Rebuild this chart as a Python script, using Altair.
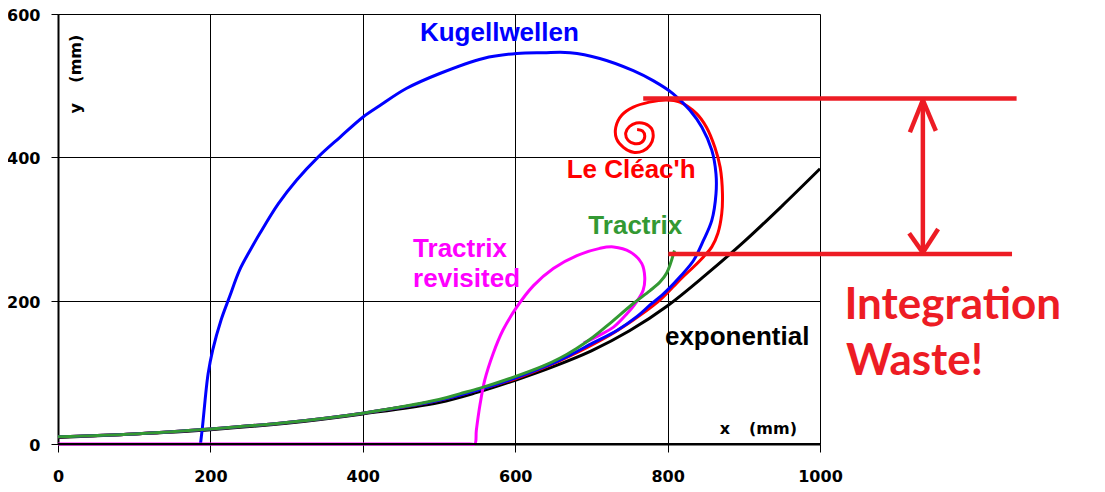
import altair as alt
import pandas as pd

# ---------------- data (mm) ----------------
exp_x = [0, 100, 200, 300, 400, 500, 550, 600, 650, 700, 750, 800, 850, 900, 950, 1000]
exp_y = [9, 14, 20, 29, 42, 58, 72, 89, 108, 130, 158, 193, 236, 282, 332, 384]

tr_x = [0, 100, 200, 300, 400, 500, 527, 554, 597, 637, 659, 680, 702, 724, 755, 777, 790, 799, 809]
tr_y = [10, 14, 21, 30, 43, 62, 70, 78, 93, 109, 120, 133, 149, 168, 196, 214, 226, 239, 270]

kug_x = [0, 100, 200, 300, 400, 500, 550, 600, 646, 672, 702, 733, 760, 777, 792, 799,
         816, 834, 847, 858, 863.5, 863.5, 858, 845, 829, 807, 781, 755, 711, 672, 637, 602,
         558, 501, 457, 422, 400, 370, 341, 313, 289, 265, 252, 238, 225, 214, 203, 197,
         193, 190, 187]
kug_y = [10, 14, 21, 30, 43, 61, 75, 92, 111, 124, 141, 158, 178, 194, 207, 214,
         233, 256, 284, 312, 349, 377, 410, 442, 466, 489, 507, 521, 538, 546, 546, 545,
         538, 517, 496, 472, 456, 428, 400, 368, 335, 294, 270, 242, 205, 173, 131, 98,
         61, 28, 0]

cl_x = [0, 100, 200, 300, 400, 500, 550, 600, 650, 676, 702, 729, 755, 781, 794, 807,
        820, 834, 847, 858, 866, 871, 872, 869, 862, 851, 838, 816, 799, 776, 755, 740,
        732, 733, 742, 755, 768, 777, 781, 779, 770, 759, 750, 745, 748, 757, 766, 770,
        767, 760]
cl_y = [10, 14, 21, 30, 43, 61, 75, 91, 112, 125, 139, 155, 173, 193, 205, 219,
        233, 247, 261, 275, 294, 321, 349, 386, 414, 442, 461, 477, 480, 477, 470, 459,
        442, 426, 414, 407, 409, 417, 428, 440, 447, 448, 443, 434, 424, 419, 421, 429,
        437, 439]

mag_x = [0, 300, 540, 547, 549, 554, 560, 571, 584, 602, 624, 650, 681, 711, 729, 751, 766, 770,
         768, 759, 746, 729, 711, 702, 690]
mag_y = [0, 0, 0, 0, 19, 56, 89, 126, 159, 191, 221, 245, 263, 273, 275, 268, 252, 233,
         215, 198, 181, 163, 152, 147, 141]

# "Integration Waste!" annotation segments (mm)
ann_x1 = [768, 801, 1135, 1135, 1135, 1135, 1135]
ann_y1 = [482, 265, 480, 480, 480, 267, 267]
ann_x2 = [1258, 1252, 1135, 1118, 1152, 1117, 1155]
ann_y2 = [482, 265, 267, 435, 437, 294, 300]

x_ticks = [0, 200, 400, 600, 800, 1000]
y_ticks = [0, 200, 400, 600]


def frame(xs, ys):
    return pd.DataFrame({"x": xs, "y": ys, "i": list(range(len(xs)))})


FONT = "Liberation Sans"
TFONT = "DejaVu Sans"
xscale = alt.Scale(domain=[0, 1000], nice=False, zero=False)
yscale = alt.Scale(domain=[0, 600], nice=False, zero=False)
xaxis = alt.Axis(values=x_ticks, title=None, format="d", labelFont=TFONT, labelFontWeight="bold",
                 labelFontSize=16, labelColor="black", tickColor="black", tickSize=8,
                 tickWidth=1, domainColor="black", domainWidth=2, gridColor="black",
                 gridWidth=1, gridOpacity=1, labelPadding=16, labelFlush=False)
yaxis = alt.Axis(values=y_ticks, title=None, format="d", labelFont=TFONT, labelFontWeight="bold",
                 labelFontSize=16, labelColor="black", tickColor="black", tickSize=7,
                 tickWidth=1, domainColor="black", domainWidth=2, gridColor="black",
                 gridWidth=1, gridOpacity=1, labelPadding=11, labelFlush=False,
                 labelOffset=1.5)


def curve(xs, ys, color, width=3):
    return alt.Chart(frame(xs, ys)).mark_line(
        color=color, strokeWidth=width, interpolate="catmull-rom"
    ).encode(
        x=alt.X("x:Q", scale=xscale, axis=xaxis),
        y=alt.Y("y:Q", scale=yscale, axis=yaxis),
        order=alt.Order("i:Q"),
    )


def label(txt, xv, yv, color, size=26, font=FONT, angle=0, align="left", baseline="alphabetic"):
    m = alt.Chart().mark_text(text=txt, color=color, font=font, fontSize=size,
                              fontWeight="bold", align=align, baseline=baseline, angle=angle)
    return m.encode(x=alt.datum(xv), y=alt.datum(yv))


ann_df = pd.DataFrame({"x": ann_x1, "y": ann_y1, "x2": ann_x2, "y2": ann_y2})
ann = alt.Chart(ann_df).mark_rule(color="#ED1C24", strokeWidth=4.5).encode(
    x=alt.X("x:Q", scale=xscale, axis=xaxis),
    y=alt.Y("y:Q", scale=yscale, axis=yaxis),
    x2="x2:Q",
    y2="y2:Q",
)

baseline_rule = alt.Chart().mark_rule(color="black", strokeWidth=2).encode(y=alt.datum(0))

layers = [
    curve(exp_x, exp_y, "black"),
    curve(cl_x, cl_y, "#FF0000"),
    curve(kug_x, kug_y, "#0000FF"),
    curve(mag_x, mag_y, "#FF00FF"),
    baseline_rule,
    curve(tr_x, tr_y, "#339933"),
    ann,
    label("Kugellwellen", 475, 562, "#0000FF"),
    label("Le Cléac'h", 667.5, 371.7, "#FF0000"),
    label("Tractrix", 696, 293.6, "#339933"),
    label("Tractrix", 466, 260.9, "#FF00FF"),
    label("revisited", 466, 219.1, "#FF00FF"),
    label("exponential", 796.5, 137.7, "black"),
    label("Integration", 1032, 175, "#ED1C24", size=44, font="Lato"),
    label("Waste!", 1034, 96, "#ED1C24", size=44, font="Lato"),
    label("x", 875.3, 14.5, "black", size=16, font=TFONT, align="center"),
    label("(mm)", 938.3, 14.5, "black", size=16, font=TFONT, align="center"),
    label("y", 23.2, 468.4, "black", size=16, font=TFONT, angle=270, align="center", baseline="middle"),
    label("(mm)", 23.2, 537.7, "black", size=16, font=TFONT, angle=270, align="center", baseline="middle"),
]

chart = alt.layer(*layers).properties(
    width=762, height=430,
    padding={"left": 50, "top": 6, "right": 270, "bottom": 44},
    autosize=alt.AutoSizeParams(type="none"),
).configure_view(stroke="black", strokeWidth=2).configure(background="white")

chart.save("out.html", embed_options={"renderer": "svg", "actions": False})
